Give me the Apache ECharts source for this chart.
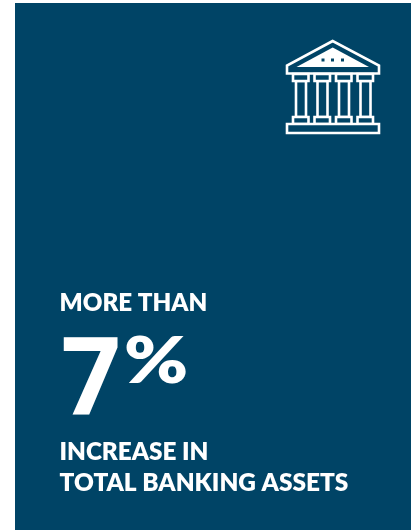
<!DOCTYPE html>
<html><head><meta charset="utf-8">
<style>html,body{margin:0;padding:0;background:#fff}#c{width:411px;height:530px}</style>
<script src="https://cdn.jsdelivr.net/npm/echarts@6/dist/echarts.min.js"></script>
</head><body><div id="c"></div>
<script>
const headline = "MORE THAN";
const bigNumber = "7";
const unit = "%";
const captionLines = ["INCREASE IN", "TOTAL BANKING ASSETS"];
const BG = "#004466", FG = "#ffffff";
const columnX = [293, 314.5, 336, 357.5];
const dotX = [323, 332.5, 342.5];

const line = {stroke: FG, lineWidth: 2.6, fill: BG};
const els = [];
els.push({type:'rect', shape:{x:15,y:3,width:396,height:527}, style:{fill:BG}});
function T(text,x,base,size,sx,fam,w){
  els.push({type:'text', x, y:base-0.82*size, scaleX:sx||1, style:{text, fill:FG, font:`${w||800} ${size}px ${fam||'Lato'}`}});
}
T(headline,59.5,311,24.2);
T(bigNumber,61,418,108,0.97,"'Open Sans'",700);
T(unit,124,383,64,1.2);
T(captionLines[0],59.5,460,24.3);
T(captionLines[1],59.5,491.5,24.4);
// icon
els.push({type:'polygon', shape:{points:[[332.7,41],[287,65.5],[287,73.5],[379,73.5],[379,65.5]]}, style:line});
els.push({type:'polygon', shape:{points:[[332.7,47.5],[296.5,67],[369,67]]}, style:{fill:FG}});
dotX.forEach(x=>els.push({type:'rect', shape:{x:x-1.5,y:58.5,width:3,height:3}, style:{fill:BG}}));
columnX.forEach(x=>{
  els.push({type:'rect', shape:{x:x+3,y:81,width:10,height:36}, style:line});
  els.push({type:'rect', shape:{x:x,y:74,width:15.5,height:7}, style:line});
  els.push({type:'rect', shape:{x:x,y:117,width:15.5,height:7}, style:line});
});
els.push({type:'rect', shape:{x:287,y:124,width:92,height:9}, style:line});

const chart = echarts.init(document.getElementById('c'), null, {renderer:'canvas'});
chart.setOption({animation:false, backgroundColor:'#ffffff', graphic:{elements:els}});
</script></body></html>
